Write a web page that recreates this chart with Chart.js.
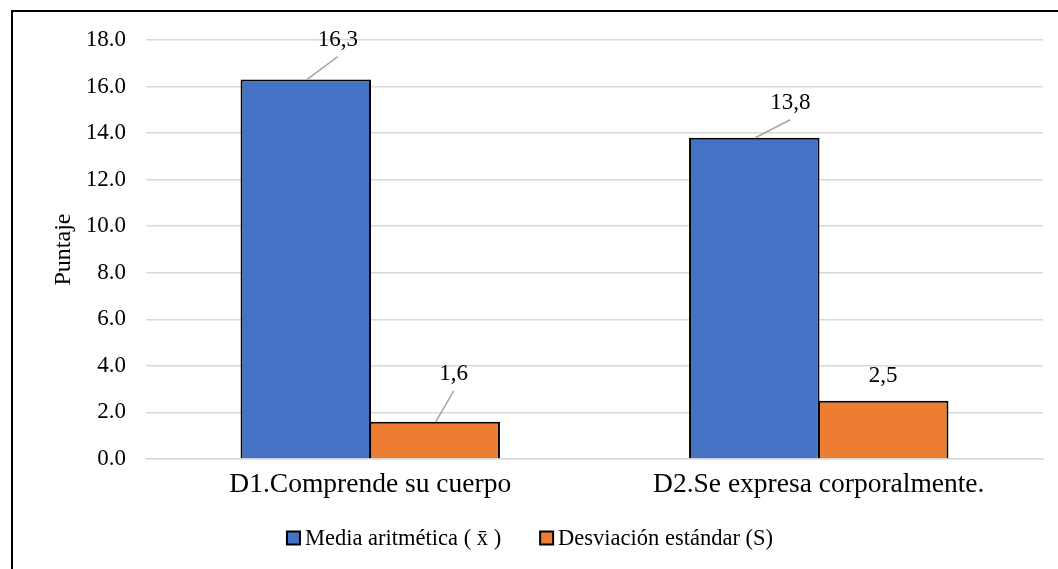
<!DOCTYPE html>
<html>
<head>
<meta charset="utf-8">
<script src="https://cdn.jsdelivr.net/npm/chart.js@4.4.1/dist/chart.umd.min.js"></script>
<style>
  html, body { margin: 0; padding: 0; background: #fff; overflow: hidden; }
  #wrap { width: 1058px; height: 569px; position: relative; }
</style>
</head>
<body>
<div id="wrap"><canvas id="chart" width="1058" height="569"></canvas></div>
<script>
// Dimension scores
const categories = ['D1.Comprende su cuerpo', 'D2.Se expresa corporalmente.'];
const seriesNames = ['Media aritmética ( x\u0304 )', 'Desviación estándar (S)'];
const mediaValues = [16.3, 13.8];
const desviacionValues = [1.6, 2.5];
const yTickValues = [0, 2, 4, 6, 8, 10, 12, 14, 16, 18];
const axisTitle = 'Puntaje';

const FONT = "'Liberation Serif', 'Times New Roman', serif";
const TEXT = '#000';
const GRID = '#d9d9d9';

// Value labels with optional leader lines, offset from the top-centre of each bar
const labelPlugin = {
  id: 'valueLabels',
  afterDatasetsDraw(chart, args, opts) {
    const ctx = chart.ctx;
    ctx.save();
    ctx.font = '23px ' + FONT;
    ctx.textAlign = 'center';
    ctx.textBaseline = 'middle';
    chart.data.datasets.forEach((ds, di) => {
      chart.getDatasetMeta(di).data.forEach((bar, i) => {
        const off = opts.offsets[di][i];
        const lx = bar.x + off.dx, ly = bar.y + off.dy;
        if (off.leader) {
          ctx.strokeStyle = '#a6a6a6';
          ctx.lineWidth = 1.5;
          ctx.beginPath();
          ctx.moveTo(bar.x + 1, bar.y);
          ctx.lineTo(lx, ly + 17);
          ctx.stroke();
        }
        ctx.fillStyle = TEXT;
        ctx.fillText(ds.data[i].toFixed(1).replace('.', ','), lx, ly);
      });
    });
    ctx.restore();
  }
};

// Outer frame and a legend with square swatches
const framePlugin = {
  id: 'frameAndLegend',
  beforeDraw(chart) {
    const ctx = chart.ctx;
    ctx.save();
    ctx.fillStyle = '#fff';
    ctx.fillRect(0, 0, chart.width, chart.height);
    ctx.restore();
  },
  afterDraw(chart) {
    const ctx = chart.ctx;
    ctx.save();
    ctx.strokeStyle = '#000';
    ctx.lineWidth = 2;
    ctx.beginPath();
    ctx.moveTo(12, chart.height);
    ctx.lineTo(12, 11);
    ctx.lineTo(chart.width, 11);
    ctx.stroke();

    // legend
    ctx.font = '22.5px ' + FONT;
    ctx.textBaseline = 'middle';
    ctx.textAlign = 'left';
    const box = 13, gap = 5, itemGap = 39, cy = 538;
    const items = chart.data.datasets.map(d => ({
      label: d.label, color: d.backgroundColor, w: ctx.measureText(d.label).width
    }));
    const total = items.reduce((s, it) => s + box + gap + it.w, 0) + itemGap * (items.length - 1);
    let x = 530 - total / 2;
    items.forEach(it => {
      ctx.fillStyle = it.color;
      ctx.fillRect(x, cy - box / 2, box, box);
      ctx.strokeStyle = '#000';
      ctx.lineWidth = 2;
      ctx.strokeRect(x, cy - box / 2, box, box);
      ctx.fillStyle = TEXT;
      ctx.fillText(it.label, x + box + gap, cy + 1);
      x += box + gap + it.w + itemGap;
    });
    ctx.restore();
  }
};

new Chart(document.getElementById('chart'), {
  type: 'bar',
  data: {
    labels: categories,
    datasets: [
      { label: seriesNames[0], data: mediaValues, backgroundColor: '#4472c4', borderColor: '#000', borderWidth: 2 },
      { label: seriesNames[1], data: desviacionValues, backgroundColor: '#ed7d31', borderColor: '#000', borderWidth: 2 }
    ]
  },
  options: {
    responsive: false,
    devicePixelRatio: 1,
    animation: false,
    categoryPercentage: 0.575,
    barPercentage: 1.012,
    layout: { padding: { left: 0, top: 40, right: 15, bottom: 0 } },
    plugins: {
      legend: { display: false },
      tooltip: { enabled: false },
      valueLabels: {
        offsets: [
          [{ dx: 32, dy: -40, leader: true }, { dx: 36, dy: -35, leader: true }],
          [{ dx: 19, dy: -48, leader: true }, { dx: 0, dy: -25, leader: false }]
        ]
      }
    },
    scales: {
      x: {
        grid: { display: false, drawTicks: false },
        border: { display: true, color: GRID, width: 1.5 },
        ticks: { color: TEXT, font: { family: FONT, size: 27.5 }, padding: 9 },
        afterFit(scale) { scale.height = 110; }
      },
      y: {
        min: 0, max: 18,
        afterBuildTicks(scale) { scale.ticks = yTickValues.map(v => ({ value: v })); },
        grid: { color: GRID, lineWidth: 1.5, drawTicks: false },
        border: { display: false },
        ticks: {
          color: TEXT, font: { family: FONT, size: 23 }, padding: 20,
          callback: v => Number(v).toFixed(1)
        },
        title: {
          display: true, text: axisTitle, color: TEXT,
          font: { family: FONT, size: 24 }, padding: { top: 49, bottom: 0 }
        },
        afterFit(scale) { scale.width = 146; }
      }
    }
  },
  plugins: [labelPlugin, framePlugin]
});
</script>
</body>
</html>
